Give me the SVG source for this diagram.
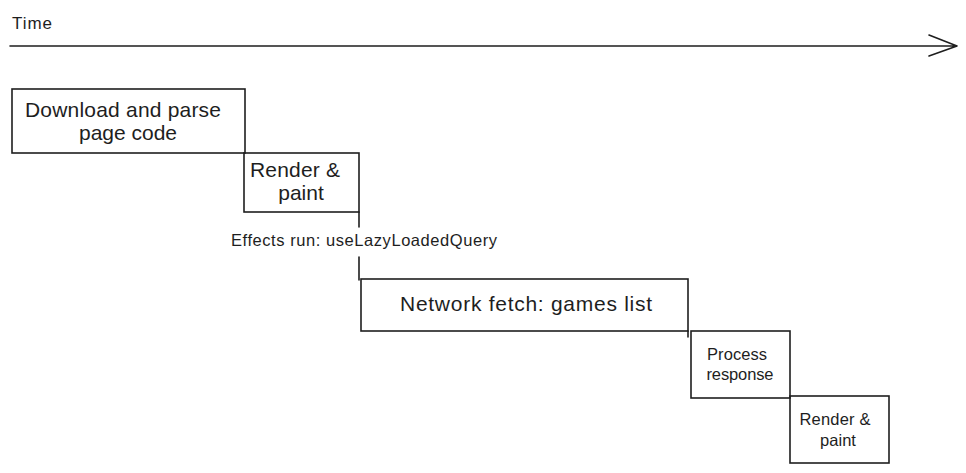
<svg xmlns="http://www.w3.org/2000/svg" width="966" height="473" viewBox="0 0 966 473">
<style>
.box{fill:none;stroke:#1e1e1e;stroke-width:1.6}
.big{font-family:"Liberation Sans",Arial,sans-serif;font-size:21px;fill:#1e1e1e;text-anchor:middle}
.sm{font-family:"Liberation Sans",Arial,sans-serif;font-size:16.5px;fill:#1e1e1e;text-anchor:middle}
.ln{fill:none;stroke:#1e1e1e;stroke-width:1.6;stroke-linecap:round;stroke-linejoin:round}
</style>
<rect width="966" height="473" fill="#ffffff"/>
<g id="time-axis">
<text x="12" y="29" font-family="'Liberation Sans',Arial,sans-serif" font-size="17" fill="#1e1e1e" textLength="40">Time</text>
<path class="ln" d="M10 46 L957 46 M929 35 L957 46 L929 56" stroke-width="2"/>
</g>
<g id="download">
<rect class="box" x="12" y="89" width="233" height="64"/>
<text class="big" x="123" y="117" textLength="196">Download and parse</text>
<text class="big" x="128" y="140">page code</text>
</g>
<g id="render1">
<rect class="box" x="244" y="153" width="115" height="59"/>
<text class="big" x="295" y="177" textLength="90">Render &amp;</text>
<text class="big" x="301" y="200">paint</text>
</g>
<g id="connectors">
<path class="ln" d="M359 212 L359 227 M359 257 L359 280 M688 331 L688 337"/>
</g>
<g id="effects">
<text class="sm" x="364" y="246" textLength="266">Effects run: useLazyLoadedQuery</text>
</g>
<g id="network">
<rect class="box" x="361" y="279" width="327" height="52"/>
<text class="big" x="526" y="311" textLength="252">Network fetch: games list</text>
</g>
<g id="process">
<rect class="box" x="691" y="331" width="99" height="67"/>
<text class="sm" x="737" y="360" textLength="60">Process</text>
<text class="sm" x="740" y="380" textLength="67">response</text>
</g>
<g id="render2">
<rect class="box" x="790" y="396" width="99" height="67"/>
<text class="sm" x="835" y="425" textLength="71">Render &amp;</text>
<text class="sm" x="838" y="446">paint</text>
</g>
</svg>
